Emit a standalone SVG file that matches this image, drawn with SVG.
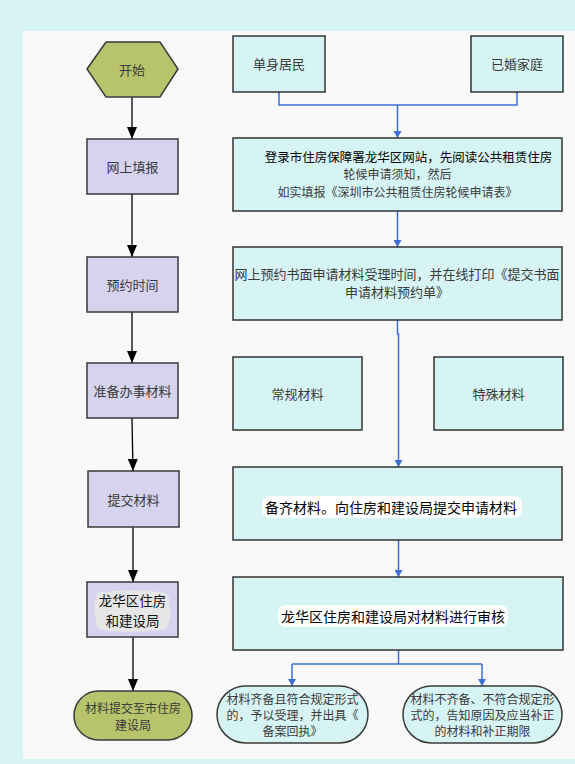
<svg xmlns="http://www.w3.org/2000/svg" width="575" height="764" viewBox="0 0 575 764">
<defs>
<marker id="ab" markerWidth="12" markerHeight="10" refX="12" refY="5" orient="auto" markerUnits="userSpaceOnUse" viewBox="0 0 12 10"><path d="M0,0 L12,5 L0,10 Z" fill="#000"/></marker>
<marker id="au" markerWidth="7" markerHeight="8" refX="7" refY="4" orient="auto" markerUnits="userSpaceOnUse" viewBox="0 0 7 8"><path d="M0,0 L7,4 L0,8 Z" fill="#3d6fd6"/></marker>
</defs>
<style>
text{font-family:"Noto Sans CJK SC","Noto Sans",sans-serif;font-size:13px;fill:#3a3a3a;text-anchor:middle;dominant-baseline:central}
.sm{font-size:12px}
.st{fill:#d6d3ee;stroke:#3a3a3a;stroke-width:1.5}
.bx{fill:#d6f4f4;stroke:#333;stroke-width:1.5}
.ol{fill:#b8c46c;stroke:#3a3a3a;stroke-width:1.5}
.cy{fill:#d6f4f4;stroke:#3a3a3a;stroke-width:1.5}
.bl{stroke:#3d6fd6;stroke-width:1.5;fill:none}
.ka{stroke:#000;stroke-width:1.3;fill:none}
.hl{fill:#ffffff}
</style>
<rect x="0" y="0" width="575" height="764" fill="#d8f3f3"/>
<rect x="23" y="31" width="552" height="728" fill="#f9f9f9"/>

<g id="connectors">
<path class="ka" d="M132,97 V139" marker-end="url(#ab)"/>
<path class="ka" d="M132,194 V257" marker-end="url(#ab)"/>
<path class="ka" d="M132,312 V363" marker-end="url(#ab)"/>
<path class="ka" d="M132,418 L133,471" marker-end="url(#ab)"/>
<path class="ka" d="M133,527 V582" marker-end="url(#ab)"/>
<path class="ka" d="M133,637 V691" marker-end="url(#ab)"/>
<path class="bl" d="M279,92 V105 H517 V92"/>
<path class="bl" d="M397.5,105 V138" marker-end="url(#au)"/>
<path class="bl" d="M397.5,211 V247" marker-end="url(#au)"/>
<path class="bl" d="M397.5,320 V334 H398.5 V467" marker-end="url(#au)"/>
<path class="bl" d="M398.5,540 V577" marker-end="url(#au)"/>
<path class="bl" d="M398.5,650 V664 M292,664 H482"/>
<path class="bl" d="M292,664 V686" marker-end="url(#au)"/>
<path class="bl" d="M482,664 V686" marker-end="url(#au)"/>
</g>

<g id="start">
<polygon class="ol" points="87,69 106,42 160,42 178,69 160,97 106,97"/>
<text x="132" y="69">开始</text>
</g>
<g id="fill-online">
<rect class="st" x="87" y="139" width="91" height="55"/>
<text x="132.5" y="166">网上填报</text>
</g>
<g id="book-time">
<rect class="st" x="87" y="257" width="91" height="55"/>
<text x="132.5" y="284">预约时间</text>
</g>
<g id="prepare">
<rect class="st" x="87" y="363" width="91" height="55"/>
<text x="132.5" y="390">准备办事材料</text>
</g>
<g id="submit">
<rect class="st" x="88" y="471" width="91" height="56"/>
<text x="133.5" y="499">提交材料</text>
</g>
<g id="bureau">
<rect class="st" x="87" y="582" width="91" height="55"/>
<path d="M96,598 Q96,590 106,592 Q132,588 160,592 Q170,592 169,602 Q172,612 169,622 Q168,632 158,630 Q132,634 104,630 Q95,630 96,620 Q93,609 96,598 Z" fill="#e6e6e6"/>
<text x="132.5" y="600" style="font-size:13.5px;fill:#111">龙华区住房</text>
<text x="132.5" y="620" style="font-size:13.5px;fill:#111">和建设局</text>
</g>
<g id="to-city">
<rect class="ol" x="74" y="691" width="118" height="49" rx="24.5"/>
<text class="sm" x="133" y="707">材料提交至市住房</text>
<text class="sm" x="133" y="724">建设局</text>
</g>

<g id="single">
<rect class="bx" x="233" y="36" width="92" height="56"/>
<text x="279" y="63">单身居民</text>
</g>
<g id="married">
<rect class="bx" x="471" y="36" width="92" height="56"/>
<text x="517" y="63">已婚家庭</text>
</g>
<g id="login">
<rect class="bx" x="233" y="138" width="329" height="73"/>
<text x="408.5" y="156" style="font-size:12.5px;fill:#000">登录市住房保障署龙华区网站，先阅读公共租赁住房</text>
<text class="sm" x="397.5" y="173.5">轮候申请须知，然后</text>
<text class="sm" x="397.5" y="191">如实填报《深圳市公共租赁住房轮候申请表》</text>
</g>
<g id="reserve">
<rect class="bx" x="233" y="247" width="329" height="73"/>
<text x="397" y="273">网上预约书面申请材料受理时间，并在线打印《提交书面</text>
<text x="397" y="291">申请材料预约单》</text>
</g>
<g id="regular">
<rect class="bx" x="233" y="357" width="129" height="73"/>
<text x="297.5" y="393">常规材料</text>
</g>
<g id="special">
<rect class="bx" x="434" y="357" width="129" height="73"/>
<text x="498.5" y="393">特殊材料</text>
</g>
<g id="submit-materials">
<rect class="bx" x="233" y="467" width="329" height="73"/>
<rect class="hl" x="262" y="496" width="260" height="22" rx="8"/>
<text x="391" y="507" style="font-size:14px;fill:#000">备齐材料。向住房和建设局提交申请材料</text>
</g>
<g id="review">
<rect class="bx" x="233" y="577" width="330" height="73"/>
<rect class="hl" x="278" y="605" width="230" height="22" rx="8"/>
<text x="393" y="616" style="font-size:14px;fill:#000">龙华区住房和建设局对材料进行审核</text>
</g>
<g id="accept">
<rect class="cy" x="217" y="686" width="151" height="57" rx="28.5"/>
<text class="sm" x="292.5" y="698">材料齐备且符合规定形式</text>
<text class="sm" x="292.5" y="714">的，予以受理，并出具《</text>
<text class="sm" x="292.5" y="730">备案回执》</text>
</g>
<g id="reject">
<rect class="cy" x="403" y="686" width="159" height="57" rx="28.5"/>
<text class="sm" x="482.5" y="698">材料不齐备、不符合规定形</text>
<text class="sm" x="482.5" y="714">式的，告知原因及应当补正</text>
<text class="sm" x="482.5" y="730">的材料和补正期限</text>
</g>
</svg>
